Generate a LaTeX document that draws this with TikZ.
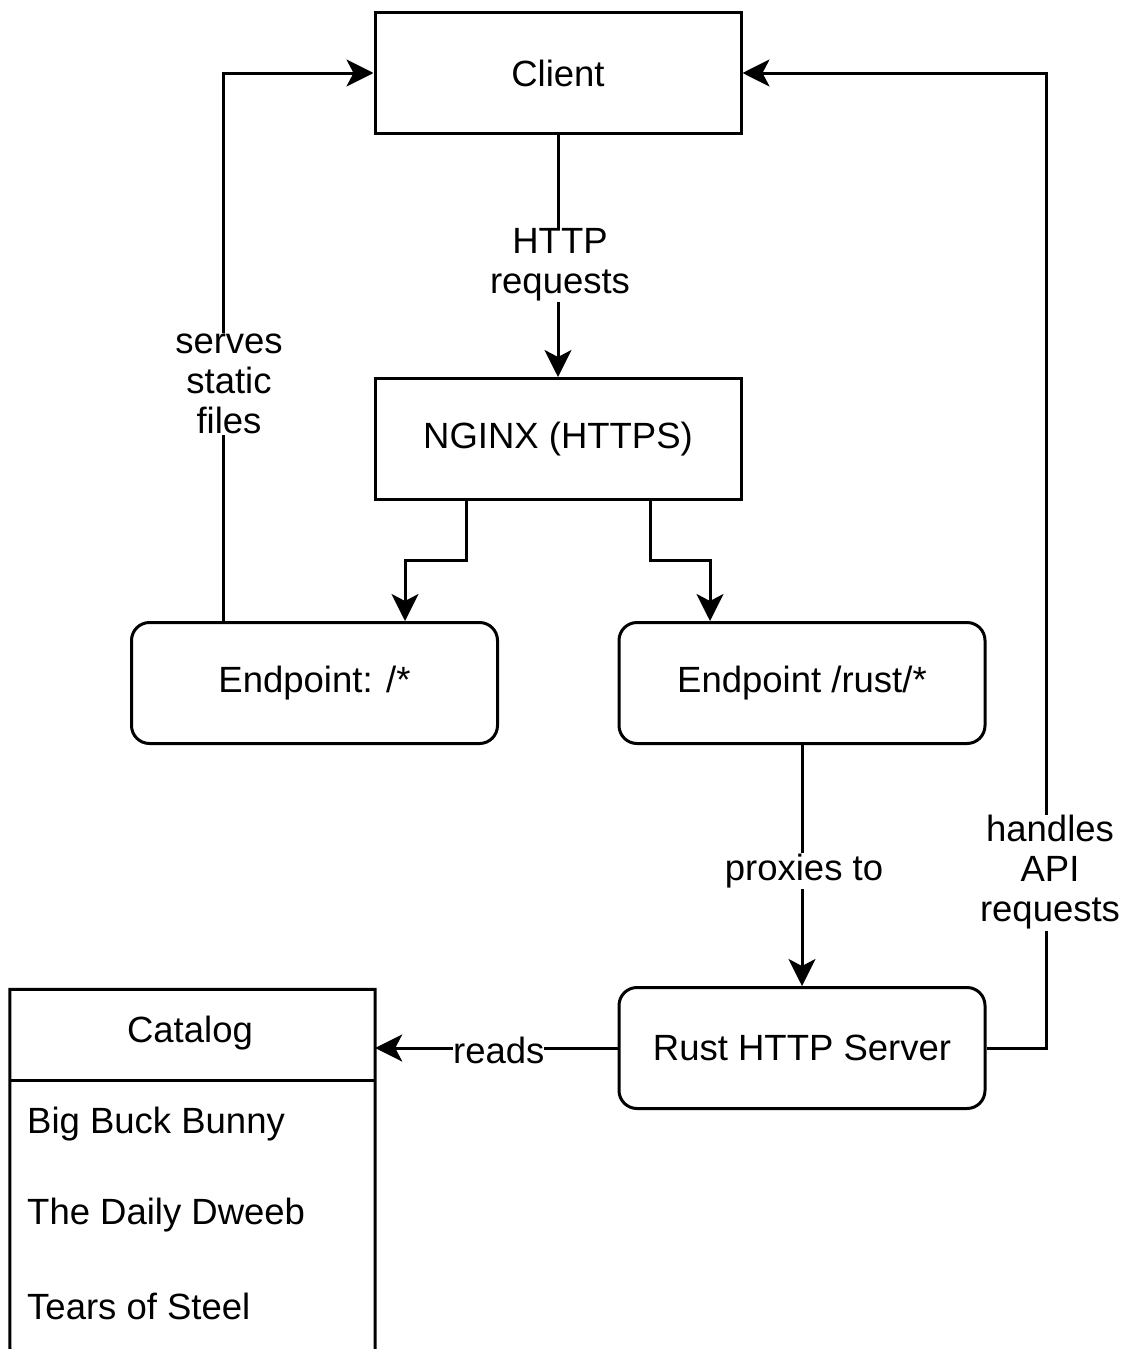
\documentclass[tikz,border=0pt]{standalone}
\usepackage{fontspec}
\setmainfont{Liberation Sans}
\usetikzlibrary{arrows.meta}
\begin{document}
\begin{tikzpicture}[x=1pt,y=-1pt,
  every node/.style={font=\fontsize{36.5}{40}\selectfont},
  box/.style={draw, line width=3pt, minimum width=366pt, minimum height=121pt, inner sep=0pt},
  rbox/.style={box, rounded corners=18pt},
  conn/.style={line width=3pt, -{Stealth[length=27pt, width=27pt, inset=7pt]}},
  lbl/.style={fill=white, inner sep=1pt, align=center},
  item/.style={anchor=west, inner sep=0pt}
]
\useasboundingbox[fill=white] (0,0) rectangle (1122,1349);

\node[box]  (client) at (558,73)  {Client};
\node[box]  (nginx)  at (558,439) {NGINX (HTTPS)};
\node[rbox] (ep1)    at (314.5,683) {Endpoint: /*};
\node[rbox] (ep2)    at (802,683) {Endpoint /rust/*};
\node[rbox] (rust)   at (802,1048) {Rust HTTP Server};

% Catalog (cut at the bottom edge)
\node[minimum width=365pt, minimum height=91pt, inner sep=0pt] (cathead) at (192.5,1035) {};
\node (cattitle) at (190,1033) {Catalog};
\draw[line width=3pt] (10,1349) -- (cathead.north west) -- (cathead.north east) -- (375,1349);
\draw[line width=3pt] (cathead.south west) -- (cathead.south east);
\node[item] (i1) at (27,1124) {Big Buck Bunny};
\node[item] (i2) at (27,1215) {The Daily Dweeb};
\node[item] (i3) at (27,1306) {Tears of Steel};

% connectors
\draw[conn] (client.south) -- node[lbl, pos=0.52, xshift=2pt, yshift=-4pt] {HTTP\\requests} (nginx.north);
\draw[conn] ([xshift=-92pt]nginx.south) |- (405,560) -- (405,560 |- ep1.north);
\draw[conn] ([xshift=92pt]nginx.south) |- (710,560) -- (710,560 |- ep2.north);
\draw[conn] (223,0 |- ep1.north) -- node[lbl, pos=0.44, xshift=6pt, yshift=-4pt] {serves\\static\\files} (223,73) -- (client.west);
\draw[conn] (ep2.south) -- node[lbl, pos=0.51, xshift=2pt, yshift=-3pt] {proxies to} (rust.north);
\draw[conn] (rust.east) -- (1046,1048) -- node[lbl, pos=0.18, xshift=4pt] {handles\\API\\requests} (1046,73) -- (client.east);
\draw[conn] (rust.west) -- node[lbl, pos=0.49, inner sep=0pt, yshift=-2pt] {reads} (rust.west -| cathead.east);
\end{tikzpicture}
\end{document}
